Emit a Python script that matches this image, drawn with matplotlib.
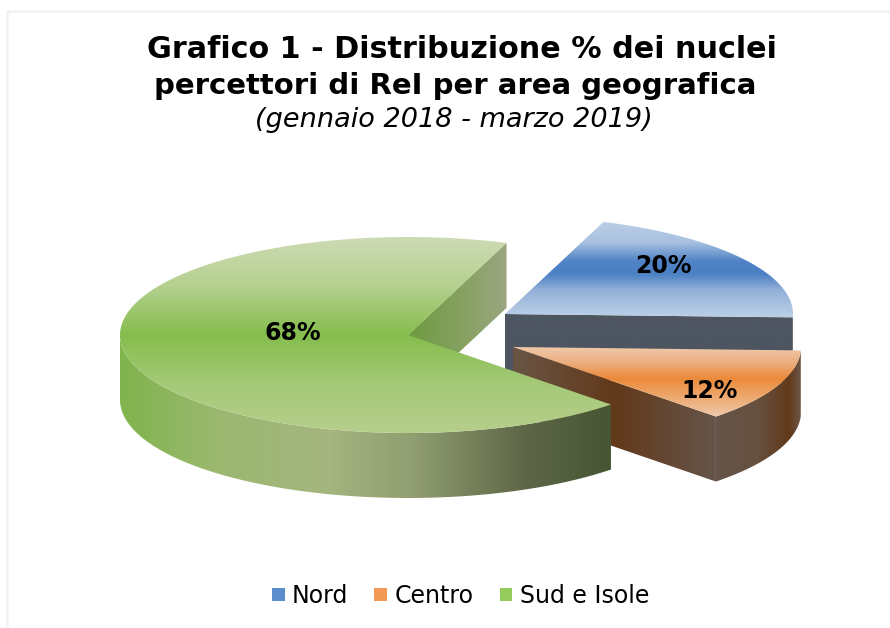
import numpy as np
import matplotlib
matplotlib.use('Agg')
import matplotlib.pyplot as plt
from matplotlib.colors import LinearSegmentedColormap
from matplotlib.patches import Patch, PathPatch
from matplotlib.path import Path

categories = ['Nord', 'Centro', 'Sud e Isole']
values = [20, 12, 68]
value_labels = ['20%', '12%', '68%']

# layout in pixels of the 890x628 picture
centers = {'Nord': (505, 314), 'Centro': (513, 347), 'Sud e Isole': (408, 335)}
label_pos = {'Nord': (663, 266), 'Centro': (710, 391), 'Sud e Isole': (293, 333)}
legend_colors = ['#5b8ccb', '#f29a55', '#94cb5c']
rx, ry, depth = 288, 98, 65
start_angle = 70

# top surface: vertical gradient, side walls: horizontal gradient
top_colors = {
    'Nord': [(0, '#bccee6'), (0.22, '#a8c1e0'), (0.42, '#4f83c6'), (0.55, '#4a80c4'), (0.72, '#93b0d9'), (1, '#bccfe7')],
    'Centro': [(0, '#efc9aa'), (0.2, '#ecb184'), (0.45, '#eb8a3a'), (0.72, '#edaa70'), (1, '#efcaad')],
    'Sud e Isole': [(0, '#cddbb3'), (0.25, '#b5d08f'), (0.5, '#85bd4d'), (0.75, '#a5c978'), (1, '#b6cf8b')],
}
wall_colors = {
    'Nord': [(0, '#4d5561'), (1, '#4d5561')],
    'Centro': [(0, '#6a5545'), (0.5, '#62391a'), (1, '#66554a')],
    'Centro_rim': [(0, '#66554a'), (0.5, '#66503e'), (0.86, '#62391a'), (1, '#6c5748')],
    'Sud e Isole': [(0, '#80b44c'), (0.2, '#9bb870'), (0.42, '#a5b680'), (0.6, '#909d70'), (0.82, '#5f6848'), (1, '#465533')],
    'Sud_back': [(0, '#6f9a41'), (0.5, '#84a15e'), (1, '#9ba680')],
}

fig = plt.figure(figsize=(8.9, 6.28), dpi=100)
ax = fig.add_axes([0, 0, 1, 1])
ax.set_xlim(0, 890)
ax.set_ylim(628, 0)
ax.axis('off')


def rim(center, a1, a2, n=120):
    t = np.radians(np.linspace(a1, a2, n))
    return np.column_stack([center[0] + rx * np.cos(t), center[1] - ry * np.sin(t)])


def fill_gradient(pts, colors, vertical, z):
    cmap = LinearSegmentedColormap.from_list('g', colors)
    x0, x1 = pts[:, 0].min(), pts[:, 0].max()
    y0, y1 = pts[:, 1].min(), pts[:, 1].max()
    grad = np.linspace(0, 1, 256)
    grad = grad[:, None] if vertical else grad[None, :]
    im = ax.imshow(grad, cmap=cmap, extent=[x0, x1, y1, y0], origin='upper',
                   aspect='auto', zorder=z, vmin=0, vmax=1, interpolation='bilinear')
    patch = PathPatch(Path(np.vstack([pts, pts[:1]])), transform=ax.transData,
                      facecolor='none', edgecolor='none')
    ax.add_patch(patch)
    im.set_clip_path(patch)


def wall(p1, p2):
    return np.vstack([p1, p2, p2 + [0, depth], p1 + [0, depth]])


# slices go clockwise from start_angle
angles = start_angle - np.cumsum([0] + values) * 3.6
z = 2

# Nord: only the flat cut at the right shows
c = np.array(centers['Nord'], dtype=float)
a1, a2 = angles[0], angles[1]
fill_gradient(wall(c, rim(c, a2, a2, 1)[0]), wall_colors['Nord'], False, z)
top = np.vstack([c, rim(c, a1, a2)])
fill_gradient(top, top_colors['Nord'], True, z + 1)

# Centro
z = 4
c = np.array(centers['Centro'], dtype=float)
a1, a2 = angles[1], angles[2]
edge = rim(c, a2, a2, 1)[0]
fill_gradient(wall(c, edge), wall_colors['Centro'], False, z)
arc = rim(c, a2, min(a1, 0))
fill_gradient(np.vstack([arc, arc[::-1] + [0, depth]]), wall_colors['Centro_rim'], False, z + 1)
fill_gradient(np.vstack([c, rim(c, a1, a2)]), top_colors['Centro'], True, z + 2)

# Sud e Isole
z = 8
c = np.array(centers['Sud e Isole'], dtype=float)
a1, a2 = angles[2], angles[3]
fill_gradient(wall(c, rim(c, a2, a2, 1)[0]), wall_colors['Sud_back'], False, z)
arc = rim(c, -180, a1)
fill_gradient(np.vstack([arc, arc[::-1] + [0, depth]]), wall_colors['Sud e Isole'], False, z + 1)
fill_gradient(np.vstack([c, rim(c, a1, a2)]), top_colors['Sud e Isole'], True, z + 2)

ax.set_xlim(0, 890)
ax.set_ylim(628, 0)

for cat, lab in zip(categories, value_labels):
    x, y = label_pos[cat]
    ax.text(x, y, lab, ha='center', va='center', fontsize=17, fontweight='bold',
            color='black', zorder=20)

ax.text(461.5, 49, 'Grafico 1 - Distribuzione % dei nuclei', ha='center', va='center',
        fontsize=21.8, fontweight='bold', color='black')
ax.text(455, 86, 'percettori di ReI per area geografica', ha='center', va='center',
        fontsize=21, fontweight='bold', color='black')
ax.text(453.5, 120, '(gennaio 2018 - marzo 2019)', ha='center', va='center',
        fontsize=19.5, fontstyle='italic', color='black')

handles = [Patch(facecolor=col, edgecolor='none', label=cat)
           for cat, col in zip(categories, legend_colors)]
ax.legend(handles=handles, ncol=3, frameon=False, fontsize=17,
          loc='center', bbox_to_anchor=(460.5 / 890, 1 - 596 / 628),
          handlelength=0.55, handleheight=0.45, handletextpad=0.3, columnspacing=1.1)

# faint frame of the original screenshot
ax.plot([890, 7, 7], [11, 11, 628], color='#f2f2f2', lw=1.8, zorder=1)

fig.savefig('out.png', dpi=100)
